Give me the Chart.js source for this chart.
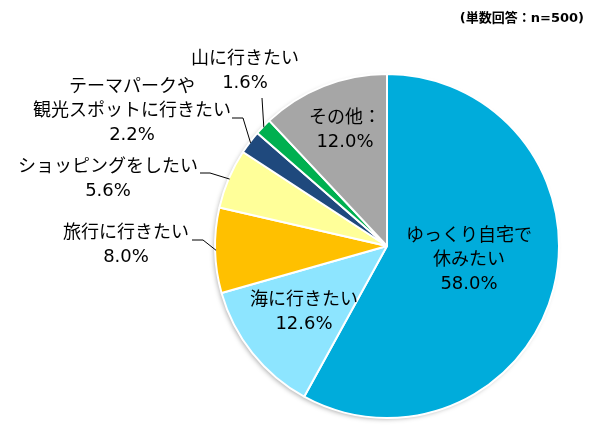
<!DOCTYPE html>
<html>
<head>
<meta charset="utf-8">
<script src="https://cdn.jsdelivr.net/npm/chart.js@4/dist/chart.umd.min.js"></script>
<style>
  body { margin: 0; background: #fff; }
  #wrap { width: 606px; height: 445px; }
</style>
</head>
<body>
<div id="wrap"><canvas id="myChart" width="606" height="445"></canvas></div>
<script>
// data (clockwise from 12 o'clock)
const categories = [
    ['ゆっくり自宅で', '休みたい'],
    ['海に行きたい'],
    ['旅行に行きたい'],
    ['ショッピングをしたい'],
    ['テーマパークや', '観光スポットに行きたい'],
    ['山に行きたい'],
    ['その他：']
];
const values = [58.0, 12.6, 8.0, 5.6, 2.2, 1.6, 12.0];
const sliceColors = ['#00ACDB', '#8DE5FF', '#FFC000', '#FFFF99', '#1F497D', '#00B050', '#A6A6A6'];
const noteText = '(単数回答：n=500)';

// where each label sits (first line centre) and its leader line, if any
const labelLayout = [
    { x: 469, y: 236 },
    { x: 304, y: 300 },
    { x: 126, y: 233, leader: { x1: 192, x2: 203, y: 240 } },
    { x: 108, y: 167, leader: { x1: 200, x2: 210, y: 173 } },
    { x: 132, y: 87, leader: { x1: 232, x2: 243, y: 118 } },
    { x: 245, y: 59, leader: { x1: 262, x2: 262, y: 98 } },
    { x: 345, y: 118 }
];

const FONT = '"DejaVu Sans", "Noto Sans CJK JP", sans-serif';

const shadowPlugin = {
    id: 'pieShadow',
    beforeDatasetsDraw(chart) {
        const arc = chart.getDatasetMeta(0).data[0];
        if (!arc) return;
        const ctx = chart.ctx;
        ctx.save();
        ctx.shadowColor = 'rgba(0,0,0,0.35)';
        ctx.shadowBlur = 5;
        ctx.shadowOffsetX = -2;
        ctx.shadowOffsetY = 2;
        ctx.fillStyle = '#fff';
        ctx.beginPath();
        ctx.arc(arc.x, arc.y, arc.outerRadius - 1, 0, Math.PI * 2);
        ctx.fill();
        ctx.restore();
    }
};

const labelPlugin = {
    id: 'sliceLabels',
    afterDatasetsDraw(chart) {
        const ctx = chart.ctx;
        const arcs = chart.getDatasetMeta(0).data;
        ctx.save();
        ctx.fillStyle = '#000';
        ctx.strokeStyle = '#000';
        ctx.lineWidth = 1;
        ctx.textAlign = 'center';
        ctx.textBaseline = 'middle';
        ctx.font = '18px ' + FONT;

        arcs.forEach((arc, i) => {
            const pos = labelLayout[i];
            const lines = categories[i].concat([values[i].toFixed(1) + '%']);
            lines.forEach((line, j) => {
                ctx.fillText(line, pos.x, pos.y + j * 24);
            });

            if (pos.leader) {
                const mid = (arc.startAngle + arc.endAngle) / 2;
                const r = arc.outerRadius - 1;
                const ex = arc.x + Math.cos(mid) * r;
                const ey = arc.y + Math.sin(mid) * r;
                ctx.beginPath();
                ctx.moveTo(pos.leader.x1, pos.leader.y);
                ctx.lineTo(pos.leader.x2, pos.leader.y);
                ctx.lineTo(ex, ey);
                ctx.stroke();
            }
        });

        // answer note, top right
        ctx.font = 'bold 13px ' + FONT;
        ctx.textAlign = 'right';
        ctx.fillText(noteText, 584, 19);
        ctx.restore();
    }
};

const data = {
    labels: categories,
    datasets: [{
        data: values,
        backgroundColor: sliceColors,
        borderColor: '#fff',
        borderWidth: 2
    }]
};

const config = {
    type: 'pie',
    data: data,
    options: {
        responsive: false,
        devicePixelRatio: 1,
        animation: false,
        layout: {
            padding: { left: 214, right: 46, top: 73, bottom: 26 }
        },
        plugins: {
            legend: { display: false },
            tooltip: { enabled: false }
        }
    },
    plugins: [shadowPlugin, labelPlugin]
};

new Chart(document.getElementById('myChart'), config);
</script>
</body>
</html>
